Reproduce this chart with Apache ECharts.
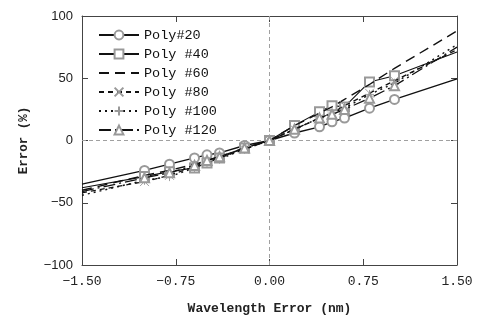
<!DOCTYPE html>
<html><head><meta charset="utf-8">
<script src="https://cdn.jsdelivr.net/npm/echarts@6/dist/echarts.min.js"></script>
<style>html,body{margin:0;padding:0;background:#fff}#c{width:481px;height:323px}</style>
</head><body><div id="c"></div>
<script>
// x positions of the curves (nm); ends at ±1.5 carry no marker
const xs = [-1.5, -1.0, -0.8, -0.6, -0.5, -0.4, -0.2, 0, 0.2, 0.4, 0.5, 0.6, 0.8, 1.0, 1.5];
const names = ['Poly#20', 'Poly #40', 'Poly #60', 'Poly #80', 'Poly #100', 'Poly #120'];
const poly20  = [-35, -24, -19, -14, -11.5, -10, -4, 0, 6, 11, 15, 18, 26, 33, 49.5];
const poly40  = [-38, -29, -25, -22, -18, -14, -6, 0, 12, 23, 28, 27, 47, 52, 71];
const poly60  = [-40, -28, -24, -19, -16, -13, -6, 0, 12, 22, 27, 33, 45, 58, 88];
const poly80  = [-42, -33, -28, -21, -17, -14, -7, 0, 9, 18, 22, 28, 38, 48, 73];
const poly100 = [-44, -32, -29, -22, -18, -15, -7, 0, 9, 18, 22, 26, 37, 46, 77];
const poly120 = [-41, -30, -26, -20, -16, -13, -6, 0, 9, 18, 21, 25, 34, 44, 75];
const xTicks = ['-1.50', '-0.75', '0.00', '0.75', '1.50'];
const yTicks = ['-100', '-50', '0', '50', '100'];

const symbols = ['emptyCircle', 'emptyRect', 'circle', 'path://M0,0L10,10M10,0L0,10', 'path://M5,0L5,10M0,5L10,5', 'emptyTriangle'];
const dashes = ['solid', 'solid', [10, 6], [5, 4], [2, 4], [12, 4, 2, 4]];
const widths = [1.4, 1.1, 1.4, 1.3, 1.4, 1.3];
const values = [poly20, poly40, poly60, poly80, poly100, poly120];

const mono = 'Liberation Mono';
const series = values.map((v, k) => {
  const noMark = k === 2;
  const col = noMark ? 'rgba(0,0,0,0)' : '#999';
  return {
    name: names[k], type: 'line', symbol: symbols[k], symbolSize: 9,
    showSymbol: true,
    itemStyle: {color: col, borderColor: col, borderWidth: 0.9},
    lineStyle: {color: '#111', width: widths[k], type: dashes[k]},
    emphasis: {disabled: true},
    data: xs.map((x, i) => {
      const d = {value: [x, v[i]]};
      if (noMark || i === 0 || i === xs.length - 1) d.symbol = 'none';
      return d;
    }),
    z: 3 + k
  };
});
series[0].markLine = {
  silent: true, symbol: 'none', label: {show: false},
  lineStyle: {color: '#a0a0a0', type: [4, 3], width: 1},
  data: [{xAxis: 0}, {yAxis: 0}]
};

const chart = echarts.init(document.getElementById('c'), null, {renderer: 'canvas'});
const fmt = v => {
  const s = v.toFixed(2);
  const i = xTicks.indexOf(s);
  return (i >= 0 ? xTicks[i] : s).replace('-', '\u2212');
};
const axLine = {show: true, onZero: false, lineStyle: {color: '#444', width: 1}};
const axTick = {show: true, inside: true, length: 6, lineStyle: {color: '#444'}};
chart.setOption({
  animation: false,
  backgroundColor: '#fff',
  grid: {left: 82, right: 24, top: 16, bottom: 58},
  legend: {
    orient: 'vertical', left: 93, top: 23, itemGap: 5, itemWidth: 40, itemHeight: 11,
    textStyle: {fontFamily: mono, fontSize: 13.5, color: '#111', lineHeight: 14},
    data: names
  },
  xAxis: [{
    type: 'value', min: -1.5, max: 1.5, interval: 0.75,
    name: 'Wavelength Error (nm)', nameLocation: 'middle', nameGap: 37,
    nameTextStyle: {fontFamily: mono, fontSize: 13, fontWeight: 'bold', color: '#222'},
    axisLine: axLine, axisTick: axTick,
    axisLabel: {formatter: fmt, fontFamily: mono, fontSize: 13, color: '#222', margin: 10},
    splitLine: {show: false}
  }, {
    type: 'value', position: 'top', min: -1.5, max: 1.5, interval: 0.75,
    axisLine: axLine, axisTick: axTick,
    axisLabel: {show: false}, splitLine: {show: false}
  }],
  yAxis: [{
    type: 'value', min: -100, max: 100, interval: 50,
    name: 'Error (%)', nameLocation: 'middle', nameGap: 52,
    nameTextStyle: {fontFamily: mono, fontSize: 12.5, fontWeight: 'bold', color: '#222'},
    axisLine: axLine, axisTick: axTick,
    axisLabel: {formatter: v => String(yTicks[yTicks.indexOf(String(v))] ?? v).replace('-', '\u2212'),
      fontFamily: 'Liberation Sans', fontSize: 13, color: '#222', margin: 9},
    splitLine: {show: false}
  }, {
    type: 'value', position: 'right', min: -100, max: 100, interval: 50,
    axisLine: axLine, axisTick: axTick,
    axisLabel: {show: false}, splitLine: {show: false}
  }],
  series: series
});
</script></body></html>
